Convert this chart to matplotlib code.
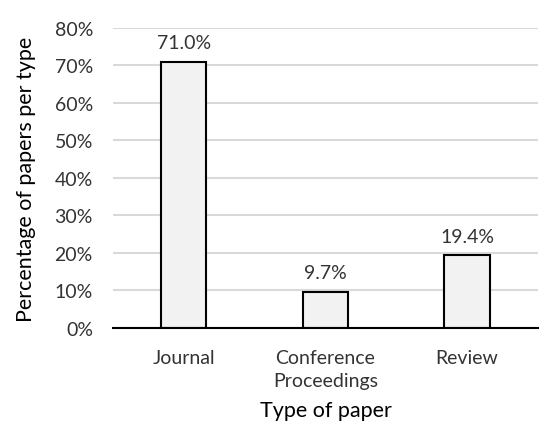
import matplotlib.pyplot as plt
from matplotlib.ticker import PercentFormatter

plt.rcParams['font.family'] = ['Lato', 'DejaVu Sans']

categories = ['Journal', 'Conference\nProceedings', 'Review']
shares = [71.0, 9.7, 19.4]
value_labels = ['71.0%', '9.7%', '19.4%']
yticks = [0, 10, 20, 30, 40, 50, 60, 70, 80]

fig = plt.figure(figsize=(5.5, 4.39), dpi=100)
ax = fig.add_axes([0.2055, 0.2506, 0.7725, 0.6834])

x = range(len(categories))
bars = ax.bar(x, shares, width=0.32, color='#f2f2f2', edgecolor='black',
              linewidth=1.5, zorder=3)
for b, lab in zip(bars, value_labels):
    ax.annotate(lab, (b.get_x() + b.get_width() / 2, b.get_height()),
                xytext=(0, 7.5), textcoords='offset points',
                ha='center', va='bottom', fontsize=14, color='#333333')

ax.set_xlim(-0.5, 2.5)
ax.set_ylim(0, 80)
ax.set_yticks(yticks)
ax.yaxis.set_major_formatter(PercentFormatter(decimals=0))
ax.set_xticks(list(x))
ax.set_xticklabels(categories, fontsize=14, color='#333333', linespacing=1.45)
ax.tick_params(axis='y', length=0, pad=14.5, labelsize=14, labelcolor='#333333')
ax.tick_params(axis='x', length=0, pad=15)
ax.grid(axis='y', color='#d9d9d9', linewidth=1.5, zorder=0)
for s in ['top', 'right', 'left']:
    ax.spines[s].set_visible(False)
ax.spines['bottom'].set_linewidth(1.5)
ax.spines['bottom'].set_zorder(4)

ax.set_ylabel('Percentage of papers per type', fontsize=15.5, color='black', labelpad=13)
ax.set_xlabel('Type of paper', fontsize=15.5, color='black', labelpad=8)

fig.savefig('out.png', dpi=100)
